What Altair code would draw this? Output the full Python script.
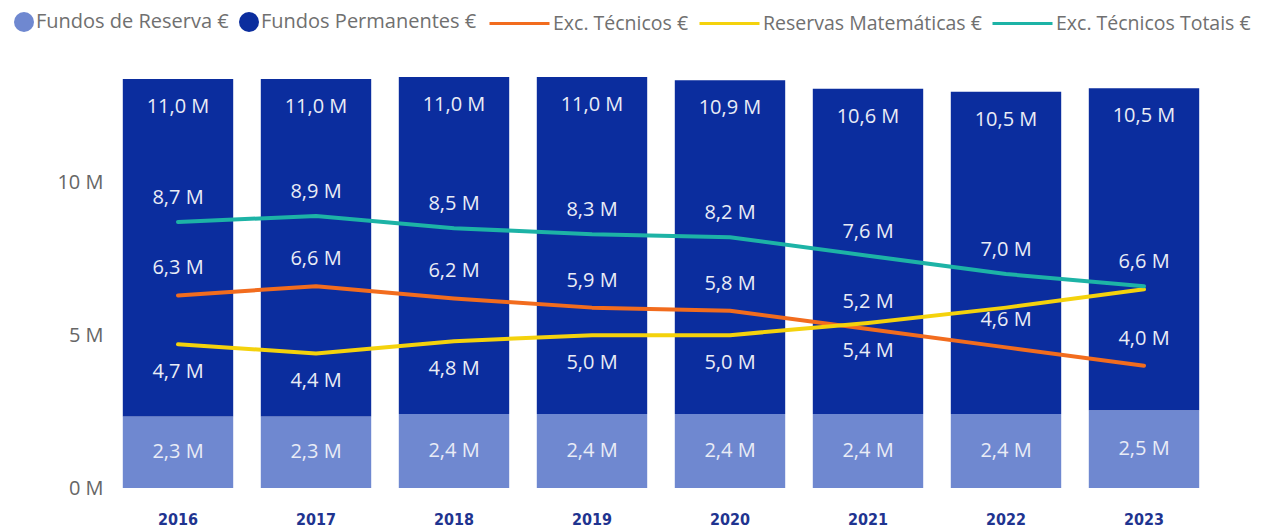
import altair as alt
import pandas as pd

years = [2016, 2017, 2018, 2019, 2020, 2021, 2022, 2023]
fundos_reserva = [2.34, 2.34, 2.42, 2.42, 2.42, 2.42, 2.42, 2.54]
fundos_permanentes = [11.04, 11.04, 11.02, 11.02, 10.92, 10.64, 10.54, 10.54]
exc_tecnicos = [6.3, 6.6, 6.2, 5.9, 5.8, 5.2, 4.6, 4.0]
reservas_matematicas = [4.7, 4.4, 4.8, 5.0, 5.0, 5.4, 5.9, 6.5]
exc_tecnicos_totais = [8.7, 8.9, 8.5, 8.3, 8.2, 7.6, 7.0, 6.6]
# labels that the original chart shows for Reservas Matemáticas
reservas_label_years = [2016, 2017, 2018, 2019, 2020, 2021]

S_RES = "Fundos de Reserva €"
S_PERM = "Fundos Permanentes €"
S_EXC = "Exc. Técnicos €"
S_MAT = "Reservas Matemáticas €"
S_TOT = "Exc. Técnicos Totais €"

rows = []
for name, vals, kind, ordv in [
    (S_RES, fundos_reserva, "bar", 0),
    (S_PERM, fundos_permanentes, "bar", 1),
    (S_EXC, exc_tecnicos, "line", 2),
    (S_MAT, reservas_matematicas, "line", 3),
    (S_TOT, exc_tecnicos_totais, "line", 4),
]:
    for y, v in zip(years, vals):
        rows.append({"Ano": str(y), "ano_n": y, "serie": name, "v": v, "kind": kind, "ord": ordv})
df = pd.DataFrame(rows)

FONT = "Open Sans"
FMT = "replace(format(datum.v, '.1f'), '.', ',') + ' M'"

x_enc = alt.X(
    "Ano:O",
    title=None,
    scale=alt.Scale(paddingInner=0.2, paddingOuter=0.1),
    axis=alt.Axis(
        labelAngle=0, labelFont="DejaVu Sans Condensed", labelFontWeight="bold",
        labelFontSize=16, labelColor="#1f3490", labelPadding=23,
        ticks=False, domain=False, grid=False,
    ),
)
y_scale = alt.Scale(domain=[0, 14], nice=False)

base = alt.Chart(df)

bars = base.transform_filter("datum.kind == 'bar'").mark_bar().encode(
    x=x_enc,
    y=alt.Y(
        "v:Q", stack="zero", scale=y_scale, title=None,
        axis=alt.Axis(
            values=[0, 5, 10], labelExpr="datum.value + ' M'", labelFont=FONT,
            labelFontSize=20, labelColor="#666666", labelPadding=6,
            ticks=False, domain=False, grid=False,
        ),
    ),
    color=alt.Color(
        "serie:N",
        scale=alt.Scale(domain=[S_RES, S_PERM], range=["#6f88d0", "#0b2d9e"]),
        legend=alt.Legend(
            title=None, orient="none", legendX=-95, legendY=-48, direction="horizontal",
            symbolType="circle", symbolSize=400, symbolStrokeWidth=0, labelFont=FONT,
            labelFontSize=20, labelColor="#707070", labelOffset=2, columnPadding=10,
            labelLimit=400,
        ),
    ),
    order=alt.Order("ord:Q"),
)

label_style = dict(font=FONT, fontSize=20, color="#e9ecf6", baseline="middle", align="center")

res_labels = base.transform_filter(f"datum.serie == '{S_RES}'").transform_calculate(
    mid="datum.v / 2", lbl=FMT
).mark_text(**label_style).encode(x="Ano:O", y=alt.Y("mid:Q", scale=y_scale), text="lbl:N")

perm_labels = base.transform_filter("datum.kind == 'bar'").transform_joinaggregate(
    total="sum(v)", groupby=["Ano"]
).transform_filter(f"datum.serie == '{S_PERM}'").transform_calculate(
    lbl=FMT
).mark_text(dy=28, **label_style).encode(x="Ano:O", y=alt.Y("total:Q", scale=y_scale), text="lbl:N")

lines = base.transform_filter("datum.kind == 'line'").mark_line(
    strokeWidth=4, strokeCap="round", strokeJoin="round"
).encode(
    x="Ano:O",
    y=alt.Y("v:Q", scale=y_scale),
    stroke=alt.Stroke(
        "serie:N",
        scale=alt.Scale(domain=[S_EXC, S_MAT, S_TOT], range=["#f26c1e", "#f4d20c", "#1db3a6"]),
        legend=alt.Legend(
            title=None, orient="none", legendX=379, legendY=-68, direction="horizontal",
            symbolType="stroke", symbolSize=3600, symbolStrokeWidth=3, labelFont=FONT,
            labelFontSize=19.5, labelColor="#707070", labelOffset=2, columnPadding=4,
            labelLimit=400,
        ),
    ),
    order=alt.Order("ano_n:Q"),
)

def line_labels(name, dy, extra_filter=None):
    c = base.transform_filter(f"datum.serie == '{name}'")
    if extra_filter:
        c = c.transform_filter(extra_filter)
    return c.transform_calculate(lbl=FMT).mark_text(dy=dy, **label_style).encode(
        x="Ano:O", y=alt.Y("v:Q", scale=y_scale), text="lbl:N"
    )

tot_labels = line_labels(S_TOT, -24)
exc_labels = line_labels(S_EXC, -27)
mat_labels = line_labels(
    S_MAT, 28, alt.FieldOneOfPredicate(field="ano_n", oneOf=reservas_label_years)
)

chart = alt.layer(
    bars, res_labels, perm_labels, lines, tot_labels, exc_labels, mat_labels
).resolve_scale(y="shared").properties(
    width=1104, height=428,
    autosize=alt.AutoSizeParams(type="none"),
    padding={"left": 101, "top": 52, "right": 51, "bottom": 40},
    background="white",
).configure_view(stroke=None)

chart.save("out.html", embed_options={"renderer": "svg", "actions": False})
